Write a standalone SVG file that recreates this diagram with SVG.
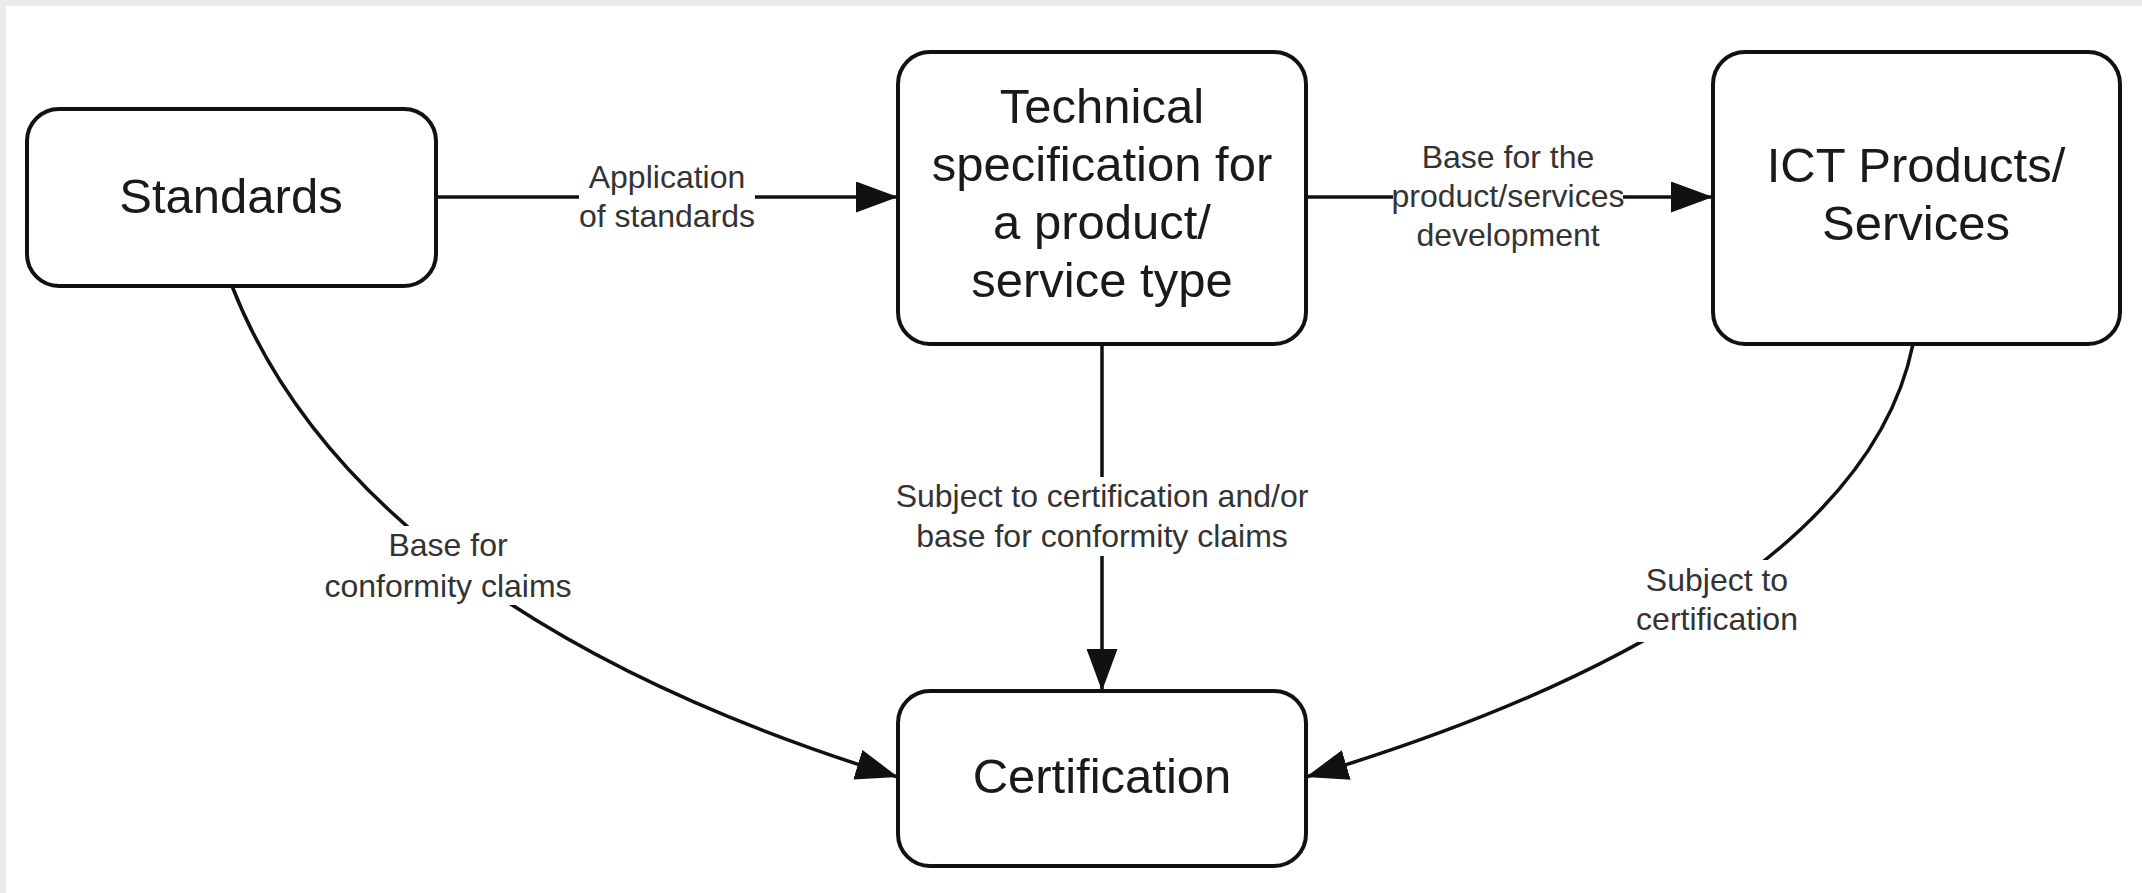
<svg xmlns="http://www.w3.org/2000/svg" width="2142" height="893" viewBox="0 0 2142 893">
  <style>
    .box { fill: #ffffff; stroke: #111111; stroke-width: 4; }
    .ntxt { font-family: "Liberation Sans", Arial, sans-serif; font-size: 49px; fill: #1a1a1a; text-anchor: middle; }
    .conn { fill: none; stroke: #111111; stroke-width: 3.5; }
    .ltxt { font-family: "Liberation Sans", Arial, sans-serif; font-size: 32px; fill: #333333; text-anchor: middle; }
    .lbg { fill: #ffffff; stroke: none; }
  </style>
  <defs>
    <marker id="arrow" markerUnits="userSpaceOnUse" markerWidth="42" markerHeight="31" refX="42" refY="15.5" orient="auto">
      <path d="M0,0 L42,15.5 L0,31 Z" fill="#111111"/>
    </marker>
  </defs>

  <!-- page background -->
  <rect x="0" y="0" width="2142" height="893" fill="#ebebeb"/>
  <rect x="6" y="6" width="2136" height="887" fill="#ffffff"/>

  <!-- connectors -->
  <g id="connectors">
    <path class="conn" d="M436,197 L898,197" marker-end="url(#arrow)"/>
    <path class="conn" d="M1306,197 L1713,197" marker-end="url(#arrow)"/>
    <path class="conn" d="M1102,344 L1102,691" marker-end="url(#arrow)"/>
    <path class="conn" d="M232,286 C322,516 568,676 898,777" marker-end="url(#arrow)"/>
    <path class="conn" d="M1913,344 C1873,544 1608,687 1306,777" marker-end="url(#arrow)"/>

    <g id="label-application">
      <rect class="lbg" x="579" y="162" width="176" height="74"/>
      <text class="ltxt" x="667" y="188">Application</text>
      <text class="ltxt" x="667" y="227">of standards</text>
    </g>
    <g id="label-base-dev">
      <rect class="lbg" x="1393" y="186" width="230" height="22"/>
      <text class="ltxt" x="1508" y="168">Base for the</text>
      <text class="ltxt" x="1508" y="207">product/services</text>
      <text class="ltxt" x="1508" y="246">development</text>
    </g>
    <g id="label-subject-and-or">
      <rect class="lbg" x="895" y="477" width="414" height="79"/>
      <text class="ltxt" x="1102" y="507">Subject to certification and/or</text>
      <text class="ltxt" x="1102" y="547">base for conformity claims</text>
    </g>
    <g id="label-base-conformity">
      <rect class="lbg" x="323" y="526" width="250" height="79"/>
      <text class="ltxt" x="448" y="556">Base for</text>
      <text class="ltxt" x="448" y="597">conformity claims</text>
    </g>
    <g id="label-subject-cert">
      <rect class="lbg" x="1635" y="560" width="164" height="82"/>
      <text class="ltxt" x="1717" y="591">Subject to</text>
      <text class="ltxt" x="1717" y="630">certification</text>
    </g>
  </g>

  <!-- nodes -->
  <g id="node-standards">
    <rect class="box" x="27" y="109" width="409" height="177" rx="32" ry="32"/>
    <text class="ntxt" x="231" y="213">Standards</text>
  </g>
  <g id="node-techspec">
    <rect class="box" x="898" y="52" width="408" height="292" rx="32" ry="32"/>
    <text class="ntxt" x="1102" y="123">Technical</text>
    <text class="ntxt" x="1102" y="181">specification for</text>
    <text class="ntxt" x="1102" y="239">a product/</text>
    <text class="ntxt" x="1102" y="297">service type</text>
  </g>
  <g id="node-ict">
    <rect class="box" x="1713" y="52" width="407" height="292" rx="32" ry="32"/>
    <text class="ntxt" x="1916" y="182">ICT Products/</text>
    <text class="ntxt" x="1916" y="240">Services</text>
  </g>
  <g id="node-certification">
    <rect class="box" x="898" y="691" width="408" height="175" rx="32" ry="32"/>
    <text class="ntxt" x="1102" y="793">Certification</text>
  </g>
</svg>
